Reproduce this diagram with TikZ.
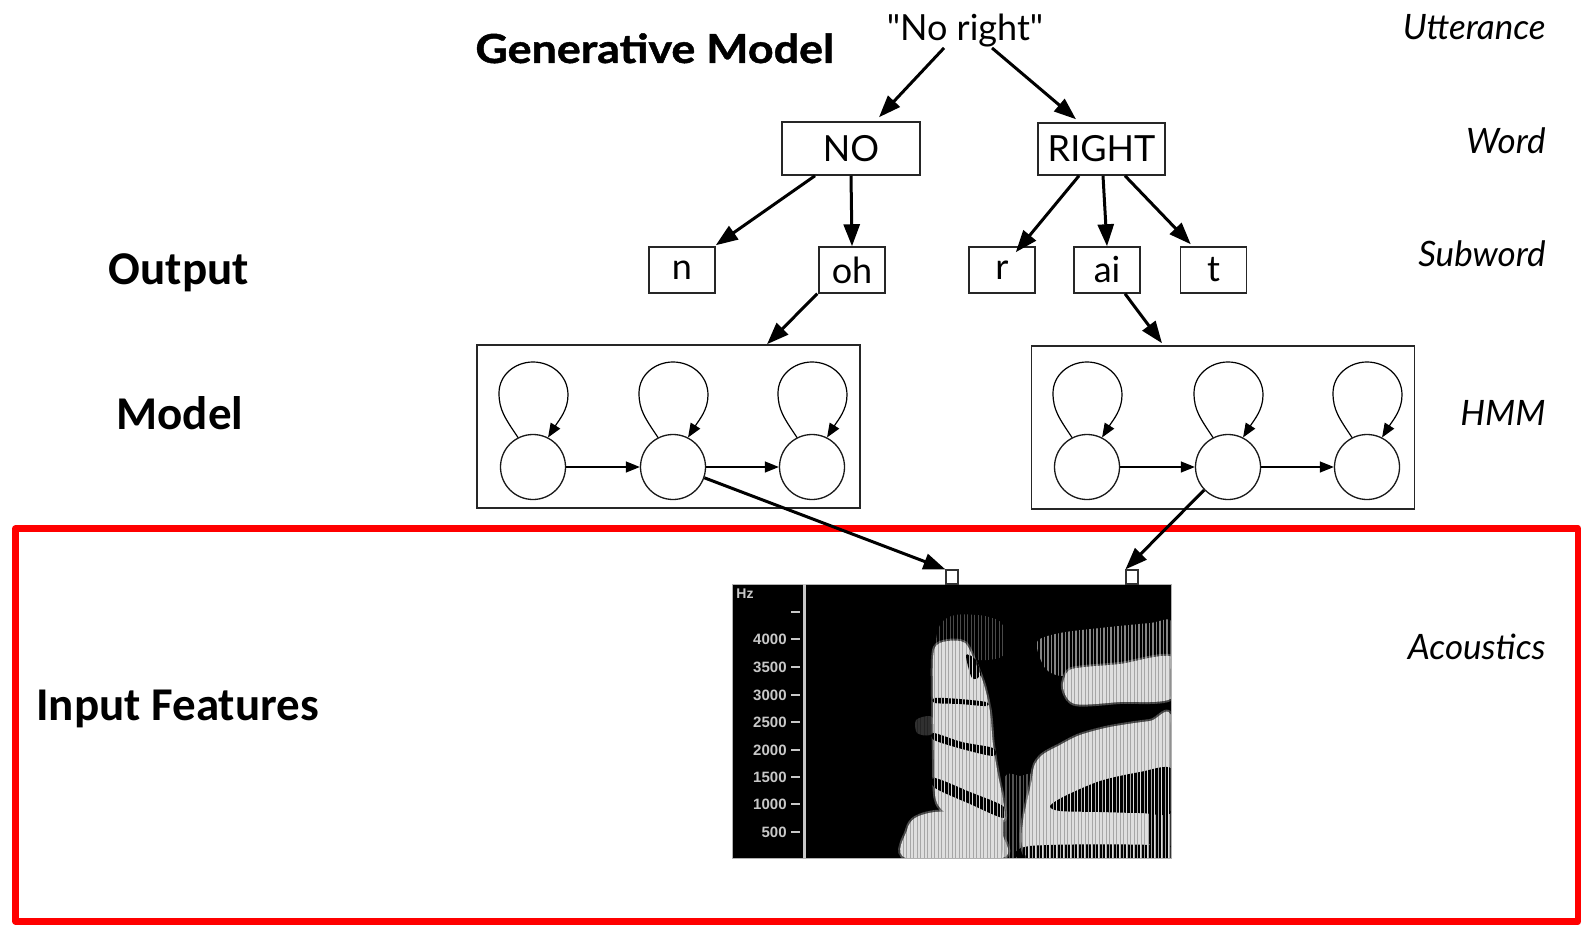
\documentclass[tikz,border=0pt]{standalone}
\usepackage{fontspec}
\setmainfont{Lato}
\newfontfamily\nrfont{Lato}[Ligatures=TeXOff]
\newfontfamily\calib{Carlito}
\newfontfamily\axisfont{Liberation Sans}
\newfontfamily\gmfont{Lato}[FakeStretch=1.12, FakeBold=1.2]
\usetikzlibrary{arrows.meta,calc}
\definecolor{sgray}{HTML}{DEDEDE}
\definecolor{axgray}{HTML}{C8C8C8}
\definecolor{framered}{HTML}{FF0000}
\newcommand\softblob[1]{%
  \draw[sgray, opacity=0.35, line width=2pt, line join=round] plot[smooth cycle] coordinates {#1};
  \fill[sgray] plot[smooth cycle] coordinates {#1};}
\newcommand\streaky[3]{%
  \begin{scope}
    \clip plot[smooth cycle] coordinates {#3};
    \foreach \x in {880,883.5,...,1175} \draw[#1, line width=#2] (\x,580) -- (\x,862);
  \end{scope}}
\begin{document}
\begin{tikzpicture}[x=0.5pt,y=-0.5pt,
  thickarrow/.style={line width=1.5pt,-{Triangle[length=11pt,width=8pt]}},
  thinarrow/.style={line width=0.6pt,-{Triangle[length=7pt,width=5.5pt]}},
  wordbox/.style={draw=black!85, line width=0.75pt, inner sep=0pt, font=\fontsize{18}{20}\selectfont},
  subbox/.style={wordbox, minimum width=33pt, minimum height=23pt},
  hmmbox/.style={draw=black!85, line width=0.75pt, inner sep=0pt, minimum width=191.5pt, minimum height=81.5pt},
  state/.style={circle, draw=black!90, line width=0.65pt, minimum size=32.5pt, inner sep=0pt},
  levellabel/.style={anchor=base east, inner sep=0pt, font=\itshape\fontsize{17.5}{20}\selectfont},
  sidelabel/.style={anchor=base, inner sep=0pt, font=\calib\bfseries\fontsize{23.5}{26}\selectfont},
  ticklabel/.style={anchor=east, inner sep=0pt, text=axgray, font=\axisfont\bfseries\fontsize{7.5}{8}\selectfont},
  marker/.style={draw=black!80, fill=white, line width=0.6pt, minimum width=6pt, minimum height=7pt, inner sep=0pt}
]
\useasboundingbox (0,0) rectangle (1583,925);

% red frame
\draw[framered, line width=3.25pt, line join=round] (15.5,528.5) rectangle (1578,921.5);

% titles and labels
\node[anchor=base west, inner sep=0pt, font=\gmfont\bfseries\fontsize{20}{22}\selectfont] (gm) at (475,63) {Generative Model};
\node[sidelabel] (out) at (179,285) {Output};
\node[sidelabel] (mod) at (180,429) {Model};
\node[sidelabel, anchor=base west] (inp) at (36,720) {Input Features};

\node[levellabel] (lu) at (1546,40) {Utterance};
\node[levellabel] (lw) at (1546,154) {Word};
\node[levellabel] (ls) at (1546,266) {Subword};
\node[levellabel] (lh) at (1546,425) {HMM};
\node[levellabel] (la) at (1546,659) {Acoustics};

% tree
\node[anchor=base, inner sep=0pt, font=\nrfont\fontsize{18}{20}\selectfont] (nr) at (965,41) {"No right"};
\node[wordbox, minimum width=69pt, minimum height=26.5pt] (no) at (851,148.5) {NO};
\node[wordbox, minimum width=63.5pt, minimum height=26pt] (right) at (1101.5,149) {RIGHT};
\node[subbox] (n) at (682,270) {n};
\node[subbox] (oh) at (852,270) {oh};
\node[subbox] (r) at (1002,270) {r};
\node[subbox] (ai) at (1107,270) {ai};
\node[subbox] (t) at (1213.5,270) {t};

\draw[thickarrow] ([xshift=-10.5pt]nr.south) -- ([xshift=14pt,yshift=2pt]no.north);
\draw[thickarrow] ([xshift=13.5pt]nr.south) -- ([xshift=-12.75pt,yshift=1.5pt]right.north);
\draw[thickarrow] ([xshift=-18pt]no.south) -- ([yshift=0.5pt]n.north east);
\draw[thickarrow] (no.south) -- (oh.north);
\draw[thickarrow] ([xshift=-11.25pt]right.south) -- ([xshift=-10pt,yshift=-3pt]r.north east);
\draw[thickarrow] ([xshift=0.75pt]right.south) -- (ai.north);
\draw[thickarrow] ([xshift=11.75pt]right.south) -- ([xshift=5.5pt,yshift=1pt]t.north west);

% HMMs
\node[hmmbox] (hmma) at (668.5,426.5) {};
\node[hmmbox] (hmmb) at (1223,427.5) {};
\node[state] (c1) at (533,467) {};
\node[state] (c2) at (673,467) {};
\node[state] (c3) at (812,467) {};
\node[state] (d1) at (1087,467) {};
\node[state] (d2) at (1228,467) {};
\node[state] (d3) at (1367,467) {};
\draw[thinarrow] (c1.east) -- (c2.west);
\draw[thinarrow] (c2.east) -- (c3.west);
\draw[thinarrow] (d1.east) -- (d2.west);
\draw[thinarrow] (d2.east) -- (d3.west);
\foreach \c in {c1,c2,c3,d1,d2,d3}{
  \draw[thinarrow] (\c.117) .. controls ($(\c)+(-28,-49)$) and ($(\c)+(-34,-57)$) .. ($(\c)+(-34,-74)$)
    .. controls ($(\c)+(-34,-92)$) and ($(\c)+(-18,-105)$) .. ($(\c)+(0,-105)$)
    .. controls ($(\c)+(18,-105)$) and ($(\c)+(35,-92)$) .. ($(\c)+(35,-72)$)
    .. controls ($(\c)+(35,-57)$) and ($(\c)+(26,-47)$) .. (\c.63);
}
\draw[thickarrow] ([xshift=-0.5pt]oh.south west) -- ([xshift=49.25pt]hmma.north);
\draw[thickarrow] ([xshift=9pt]ai.south) -- ([xshift=-30.5pt,yshift=1pt]hmmb.north);

% spectrogram
\node[draw=gray!60, fill=black, line width=0.5pt, minimum width=219.5pt, minimum height=137pt, inner sep=0pt] (spec) at (951.5,721) {};
\begin{scope}
  \clip (806,585) rectangle (1170.5,857.5);
  % faint streaks above "no"
  \begin{scope}[opacity=0.45]
    \streaky{gray!70}{0.5pt}{(938,650) (940,625) (955,615) (985,616) (1003,625) (1004,655) (975,660)}
  \end{scope}
  % "no"
  \fill[sgray, opacity=0.22] plot[smooth cycle] coordinates {(916,720) (930,716) (936,724) (930,735) (917,733)};
  \softblob{(934,650) (948,641) (965,643) (975,662) (984,685) (990,712) (993,745) (998,775) (1003,800) (1004,820) (985,818) (950,815) (936,800) (934,760) (933,700)}
  \softblob{(906,858) (907,830) (915,818) (935,812) (970,812) (1000,815) (1003,835) (1002,858)}
  \streaky{black}{1.3pt}{(966,655) (976,660) (981,675) (972,678)}
  \streaky{black}{1.1pt}{(935,698) (960,699) (986,702) (986,706) (960,704) (935,703)}
  \streaky{black}{1.3pt}{(934,733) (962,742) (993,748) (993,756) (962,749) (934,740)}
  \streaky{black}{1.45pt}{(935,778) (970,792) (1003,806) (1003,818) (970,804) (935,788)}
  % gap streaks
  \begin{scope}[opacity=0.55]
    \streaky{gray!80}{0.7pt}{(1004,780) (1020,776) (1036,780) (1036,860) (1004,860)}
  \end{scope}
  % "right"
  \begin{scope}[opacity=0.6]
    \streaky{sgray}{0.8pt}{(1037,642) (1060,633) (1100,628) (1150,623) (1172,622) (1172,668) (1100,668) (1063,676) (1045,668)}
  \end{scope}
  \softblob{(1063,688) (1068,671) (1085,667) (1120,664) (1172,657) (1172,698) (1120,702) (1075,704)}
  \softblob{(1032,778) (1040,757) (1060,745) (1080,735) (1110,727) (1150,721) (1172,720) (1172,860) (1030,860)}
  \streaky{black}{1.45pt}{(1050,806) (1065,796) (1100,781) (1140,772) (1172,769) (1172,812) (1140,813) (1100,812) (1060,811)}
  \streaky{black}{1pt}{(1030,846) (1172,846) (1172,862) (1030,862)}
  \streaky{black}{1pt}{(1150,812) (1172,812) (1172,846) (1150,846)}
  % glottal pulse streaks
  \foreach \x in {896,899.5,...,1171} \draw[black, opacity=0.25, line width=0.5pt] (\x,600) -- (\x,858);
\end{scope}
\draw[axgray, line width=1.5pt] (804,584) -- (804,858);
\node[anchor=west, inner sep=0pt, text=axgray, font=\axisfont\bfseries\fontsize{7}{8}\selectfont] (hz) at (736,594) {Hz};
\draw[axgray, line width=0.6pt] (791,612) -- (800,612);
\foreach \v/\yy in {4000/639,3500/667,3000/695,2500/722,2000/750,1500/777,1000/804,500/832}{
  \node[ticklabel] (tl\v) at (787,\yy) {\v};
  \draw[axgray, line width=0.6pt] (791,\yy) -- (800,\yy);
}
\node[marker] (sqa) at (952,577) {};
\node[marker] (sqb) at (1132,577) {};
\draw[thickarrow] (c2.-19) -- (sqa.north west);
\draw[thickarrow] (d2.-136) -- (sqb.north west);
\end{tikzpicture}
\end{document}
